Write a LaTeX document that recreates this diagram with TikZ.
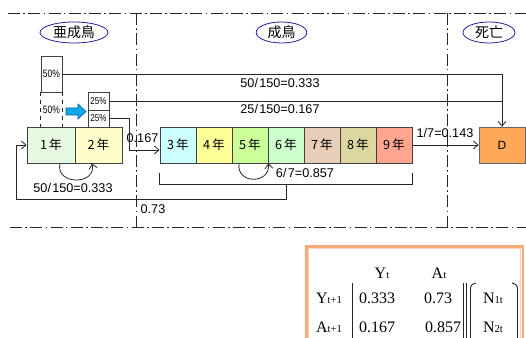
\documentclass[tikz,border=0pt]{standalone}
\usepackage{fontspec}
\setmainfont{Liberation Sans}
\newfontfamily\jp{Noto Sans CJK JP}
\newfontfamily\narrowsf[FakeStretch=0.8]{Liberation Sans}
\newfontfamily\tser{Liberation Serif}
\usetikzlibrary{arrows.meta,calc,shapes.geometric}
\definecolor{cA}{HTML}{E6F8E0}
\definecolor{cB}{HTML}{FFFFCC}
\definecolor{cC}{HTML}{CCFFFF}
\definecolor{cD}{HTML}{FFFF99}
\definecolor{cE}{HTML}{CCFF99}
\definecolor{cF}{HTML}{CCFFCC}
\definecolor{cG}{HTML}{E8CDB8}
\definecolor{cH}{HTML}{DCD6A0}
\definecolor{cI}{HTML}{FFA590}
\definecolor{cDead}{HTML}{FFA858}
\definecolor{ellblue}{HTML}{2020A0}
\definecolor{arrfill}{HTML}{10A8EC}
\definecolor{arrline}{HTML}{0060B0}
\definecolor{frameout}{HTML}{FFA878}
\definecolor{framein}{HTML}{FFD2B8}
\newcommand\sbs[1]{{\fontsize{8}{9}\selectfont #1}}
\tikzset{
  yr/.style={draw=black!75, line width=0.6pt, minimum height=27pt, inner sep=0pt, font=\jp\fontsize{9.5}{10}\selectfont},
  pct/.style={draw=black!75, line width=0.6pt, inner sep=0pt, minimum width=15.75pt, font=\narrowsf\fontsize{8}{9}\selectfont},
  regionlbl/.style={ellipse, draw=ellblue, line width=0.6pt, fill=white, minimum height=15.75pt, inner sep=0pt, font=\jp\fontsize{10.5}{12}\selectfont},
  conn/.style={line width=0.6pt, draw=black!85},
  arr/.style={conn, -{Straight Barb[length=3.5pt,width=6pt]}},
  lab/.style={font=\fontsize{9.5}{11}\selectfont, inner sep=0pt},
  ddash/.style={line width=0.6pt, draw=black!85, dash pattern=on 9pt off 2.5pt on 1.2pt off 2.5pt},
  tbl/.style={font=\tser\fontsize{12}{14}\selectfont, inner sep=0pt}
}
\begin{document}
\begin{tikzpicture}[x=0.75pt,y=-0.75pt]
\useasboundingbox (0,0) rectangle (526,338);
\clip (0,0) rectangle (526,338);
% region separators
\draw[ddash] (8,13) -- (526,13);
\draw[ddash] (10,227) -- (526,227);
\draw[ddash] (136,13) -- (136,227);
\draw[ddash] (447,13) -- (447,227);
% region labels
\node[regionlbl, minimum width=51pt] (rA) at (74,32.5) {亜成鳥};
\node[regionlbl, minimum width=38pt] (rB) at (281.5,32.5) {成鳥};
\node[regionlbl, minimum width=39pt] (rC) at (489,32.5) {死亡};
% age boxes
\node[yr, fill=cA, minimum width=36pt] (y1) at (51,145) {1\,年};
\node[yr, fill=cB, minimum width=35.25pt] (y2) at (98.5,145) {2\,年};
\node[yr, fill=cC, minimum width=27pt] (y3) at (178,145) {3\,年};
\node[yr, fill=cD, minimum width=27pt] (y4) at (214,145) {4\,年};
\node[yr, fill=cE, minimum width=27pt] (y5) at (250,145) {5\,年};
\node[yr, fill=cF, minimum width=27pt] (y6) at (286,145) {6\,年};
\node[yr, fill=cG, minimum width=27pt] (y7) at (322,145) {7\,年};
\node[yr, fill=cH, minimum width=27pt] (y8) at (358,145) {8\,年};
\node[yr, fill=cI, minimum width=27pt] (y9) at (394,145) {9\,年};
\node[yr, fill=cDead, draw=black!60, minimum width=34.5pt, font=\fontsize{9}{10}\selectfont] (D) at (502,145) {D};
% percentage boxes
\node[pct, minimum height=27pt] (p50) at (51.5,74) {50\%};
\node[pct, draw=none, minimum height=26.25pt] (p50b) at (51.5,109.5) {50\%};
\draw[conn, dashed] (p50b.north west) -- (p50b.south west);
\draw[conn, dashed] (p50b.north east) -- (p50b.south east);
\node[pct, minimum height=13.5pt, font=\narrowsf\fontsize{7.5}{8}\selectfont] (p25a) at (98.5,101) {25\%};
\node[pct, minimum height=12.75pt, font=\narrowsf\fontsize{7.5}{8}\selectfont] (p25b) at (98.5,118.5) {25\%};
% blue arrow
\draw[arrline, fill=arrfill, line width=0.5pt] (66,108) -- (78,108) -- (78,104) -- (86,111.5) -- (78,119) -- (78,115) -- (66,115) -- cycle;
% connectors
\draw[arr] (p50.east) -| (D.north);
\coordinate (r25) at (p25a.east -| D.north);
\draw[conn] (p25a.east) -- (r25);
\draw[arr] (p25b.east) -- ($(p25b.east)+(19.5,0)$) |- ($(y3.west)+(0,5)$);
\draw[arr] (y9.east) -- (D.west);
\draw[arr] ($(y1.south)+(9,0)$) .. controls ($(y1.south)+(4,22)$) and ($(y2.south)+(-1.5,22)$) .. ($(y2.south)+(-6.5,0)$);
\draw[arr] ($(y5.south)+(-11,0)$) .. controls ($(y5.south)+(-14,21)$) and ($(y5.south east)+(2,21)$) .. (y5.south east);
\coordinate (bl) at ($(y3.south west)+(0,10)$);
\coordinate (br) at ($(y9.south east)+(0,10)$);
\draw[conn] (bl) -- ++(0,11) -| (br);
\coordinate (bm) at ($(bl)!0.5!(br)+(0,11)$);
\coordinate (lft) at (16,199);
\draw[arr] (bm) |- (lft) |- (y1.west);
% labels
\node[lab] (l1) at (280,83) {50/\kern1pt150=0.333};
\node[lab] (l2) at (280,109) {25/\kern1pt150=0.167};
\node[lab] (l3) at (142.5,138) {0.167};
\node[lab] (l4) at (445,133) {1/7=0.143};
\node[lab] (l5) at (305,172.5) {6/\kern1pt7=0.857};
\node[lab] (l6) at (73,188) {50/\kern1pt150=0.333};
\node[lab] (l7) at (153,209) {0.73};
% matrix panel
\draw[frameout, line width=1.8pt] (306.5,246.5) rectangle (523,360);
\draw[framein, line width=0.6pt] (308.8,248.8) rectangle (520.7,360);
\node[tbl] (hY) at (382,273) {Y\sbs{t}};
\node[tbl] (hA) at (439,273) {A\sbs{t}};
\node[tbl] (rY) at (329,298) {Y\sbs{t+1}};
\node[tbl] (rA2) at (329,327) {A\sbs{t+1}};
\node[tbl] (m11) at (377,298) {0.333};
\node[tbl] (m12) at (438,298) {0.73};
\node[tbl] (m21) at (377,327) {0.167};
\node[tbl] (m22) at (443,327) {0.857};
\node[tbl] (n1) at (493,298) {N\sbs{1t}};
\node[tbl] (n2) at (493,327) {N\sbs{2t}};
\draw[black!85, line width=0.7pt] (352,283) -- (352,350);
\draw[black!85, line width=0.7pt] (463,283) -- (463,350);
\draw[black!85, line width=0.7pt] (466,283) -- (466,350);
\draw[black!85, line width=0.7pt] (476,283) .. controls (470.5,285) .. (470.5,292) -- (470.5,350);
\draw[black!85, line width=0.7pt] (512,283) .. controls (517.5,285) .. (517.5,292) -- (517.5,350);
\end{tikzpicture}
\end{document}
